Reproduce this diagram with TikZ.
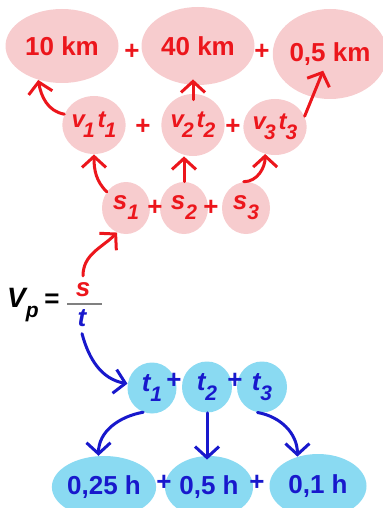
\documentclass[tikz,border=0pt]{standalone}
\usepackage{fontspec}
\setmainfont{Liberation Sans}
\usetikzlibrary{arrows.meta,shapes.geometric}
\definecolor{pinkfill}{RGB}{247,204,206}
\definecolor{redink}{RGB}{236,22,28}
\definecolor{cyanfill}{RGB}{138,218,242}
\definecolor{blueink}{RGB}{24,24,204}
\newcommand\idx[1]{\raisebox{-5pt}{\fontsize{10.5}{11}\selectfont #1}}

\begin{document}
\begin{tikzpicture}[x=0.5pt, y=-0.5pt,
    redbub/.style={ellipse, fill=pinkfill, text=redink, inner sep=0pt},
    bluebub/.style={ellipse, fill=cyanfill, text=blueink, inner sep=0pt},
    numtxt/.style={font=\bfseries\fontsize{13}{15}\selectfont},
    symtxt/.style={font=\bfseries\itshape\fontsize{13}{15}\selectfont},
    prodtxt/.style={font=\bfseries\itshape\fontsize{12}{14}\selectfont},
    plusred/.style={text=redink, font=\bfseries\fontsize{13}{15}\selectfont},
    plusblue/.style={text=blueink, font=\bfseries\fontsize{13}{15}\selectfont},
    redarr/.style={->, redink, line width=1.5pt, line cap=round},
    bluearr/.style={->, blueink, line width=1.5pt, line cap=round},
    >={Straight Barb[length=5.5pt,width=12pt]}]
    \useasboundingbox (0,0) rectangle (382,508);

    % distances
    \node[redbub, numtxt, minimum width=56.5pt, minimum height=37pt] (km1) at (62,46) {10 km};
    \node[redbub, numtxt, minimum width=56.5pt, minimum height=39pt] (km2) at (198,46) {40 km};
    \node[redbub, numtxt, minimum width=52pt, minimum height=45pt] (km3) at (330,54) {0,5 km};
    \node[plusred] (pa) at (132,52) {+};
    \node[plusred] (pb) at (262,52) {+};

    % products v t
    \node[redbub, prodtxt, minimum width=31pt, minimum height=29pt] (vt1) at (94,125) {v\kern-1pt\idx{1}\kern1.5pt t\kern-0.5pt\idx{1}};
    \node[redbub, prodtxt, minimum width=31.5pt, minimum height=31pt] (vt2) at (193,125) {v\kern-1pt\idx{2}\kern1.5pt t\kern-0.5pt\idx{2}};
    \node[redbub, prodtxt, minimum width=30pt, minimum height=28pt] (vt3) at (275,127) {v\kern-1pt\idx{3}\kern1.5pt t\kern-0.5pt\idx{3}};
    \node[plusred] (pc) at (143,127) {+};
    \node[plusred] (pd) at (233,127) {+};

    % parts of s
    \node[redbub, symtxt, minimum width=24pt, minimum height=26pt] (s1) at (126,208) {s\idx{1}};
    \node[redbub, symtxt, minimum width=24pt, minimum height=26pt] (s2) at (184,208) {s\idx{2}};
    \node[redbub, symtxt, minimum width=24pt, minimum height=26pt] (s3) at (246,208) {s\idx{3}};
    \node[plusred] (pe) at (155,208) {+};
    \node[plusred] (pf) at (211,208) {+};

    % average speed
    \node[symtxt, font=\bfseries\itshape\fontsize{14}{16}\selectfont] (vp) at (23,305) {V\idx{p}};
    \node[numtxt] (eq) at (52,301) {=};
    \node[symtxt, text=redink] (s) at (83,290) {s};
    \node[symtxt, text=blueink] (t) at (82,318) {t};
    \draw[gray, line width=0.8pt] (67,304) -- (102,304);

    % parts of t
    \node[bluebub, symtxt, minimum width=24.5pt, minimum height=25.5pt] (t1) at (152,388) {t\idx{1}};
    \node[bluebub, symtxt, minimum width=25pt, minimum height=25.5pt] (t2) at (207,387) {t\idx{2}};
    \node[bluebub, symtxt, minimum width=25pt, minimum height=25.5pt] (t3) at (262,387) {t\idx{3}};
    \node[plusblue] (pg) at (174,381) {+};
    \node[plusblue] (ph) at (235,381) {+};

    % times
    \node[bluebub, numtxt, minimum width=44pt, minimum height=31pt] (h1) at (104,487) {0,25 h};
    \node[bluebub, numtxt, minimum width=44pt, minimum height=31pt] (h2) at (209,487) {0,5 h};
    \node[bluebub, numtxt, minimum width=48.5pt, minimum height=32pt] (h3) at (318,486) {0,1 h};
    \node[plusblue] (pi) at (164,483) {+};
    \node[plusblue] (pj) at (257,483) {+};

    % red arrows
    \draw[redarr] (s.north) to[out=90, in=225] (s1.250);
    \draw[redarr] (s1.140) to[out=135, in=-90] (vt1.south);
    \draw[redarr] (s2.north) -- (s2.north |- vt2.south);
    \draw[redarr] (s3.95) to[out=0, in=-90] (vt3.250);
    \draw[redarr] (vt1.160) to[out=170, in=-80] (km1.235);
    \draw[redarr, shorten <=-3pt, shorten >=-3pt] (vt2.north) -- (vt2.north |- km2.south);
    \draw[redarr, shorten >=9pt] (vt3.20) -- (km3.center);

    % blue arrows
    \draw[bluearr] (t.south) to[out=-75, in=170] (t1.170);
    \draw[bluearr] (t1.250) to[out=190, in=90] (h1.100);
    \draw[bluearr, shorten >=-2pt] (t2.south) -- (t2.south |- h2.north);
    \draw[bluearr] (t3.260) to[out=-10, in=90] (h3.125);
\end{tikzpicture}
\end{document}
